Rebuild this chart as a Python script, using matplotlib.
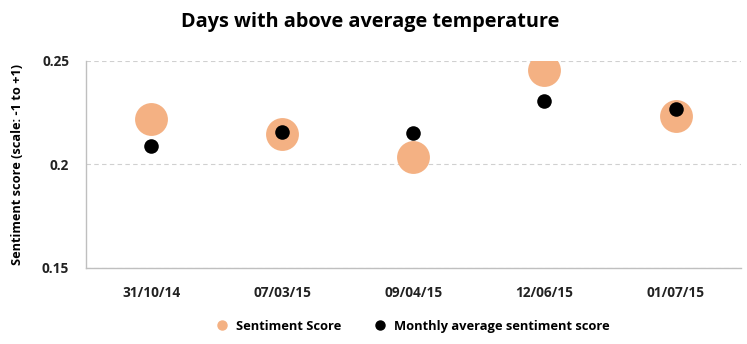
import matplotlib
matplotlib.use("Agg")
import matplotlib.pyplot as plt
from matplotlib.lines import Line2D

categories = ["31/10/14", "07/03/15", "09/04/15", "12/06/15", "01/07/15"]
sentiment = [0.2218, 0.2146, 0.2035, 0.2454, 0.2232]
monthly_avg = [0.2087, 0.2159, 0.2154, 0.2306, 0.2268]
yticks = [0.15, 0.2, 0.25]
ytick_labels = ["0.15", "0.2", "0.25"]

plt.rcParams['font.family'] = ['Open Sans', 'DejaVu Sans']

fig = plt.figure(figsize=(7.47, 3.44), dpi=100)
ax = fig.add_axes([0.115, 0.221, 0.877, 0.602])

x = list(range(len(categories)))
ax.scatter(x, sentiment, s=560, color="#F4B183", zorder=3, linewidths=0)
ax.scatter(x, monthly_avg, s=110, color="black", zorder=4, linewidths=0)

ax.set_xlim(-0.5, len(categories) - 0.5)
ax.set_ylim(0.15, 0.25)
ax.set_yticks(yticks)
ax.set_yticklabels(ytick_labels)
ax.set_xticks(x)
ax.set_xticklabels(categories)
for lab in ax.get_xticklabels() + ax.get_yticklabels():
    lab.set_fontweight("bold")
    lab.set_fontsize(9.8)
    lab.set_color("#222222")
ax.tick_params(axis='x', length=0, pad=13)
ax.tick_params(axis='y', length=0, pad=12)

ax.grid(axis='y', linestyle=(0, (4, 3)), color="#D0D0D0", linewidth=0.8)
ax.set_axisbelow(True)
for s in ["top", "right"]:
    ax.spines[s].set_visible(False)
for s in ["left", "bottom"]:
    ax.spines[s].set_color("#BFBFBF")
    ax.spines[s].set_linewidth(1.0)

ax.set_ylabel("Sentiment score (scale: -1 to +1)", fontsize=9.2, fontweight="bold", labelpad=13)
fig.text(0.495, 0.937, "Days with above average temperature", ha="center", va="center",
         fontsize=14.3, fontweight="bold")

handles = [
    Line2D([], [], marker='o', linestyle='none', markersize=6.5, color="#F4B183", label="Sentiment Score"),
    Line2D([], [], marker='o', linestyle='none', markersize=6.5, color="black", label="Monthly average sentiment score"),
]
leg = fig.legend(handles=handles, loc="center", bbox_to_anchor=(0.548, 0.052), ncol=2, frameon=False,
                 prop={'weight': 'bold', 'size': 9.3}, handletextpad=0.05, columnspacing=2.0)

fig.savefig("out.png", dpi=100)
